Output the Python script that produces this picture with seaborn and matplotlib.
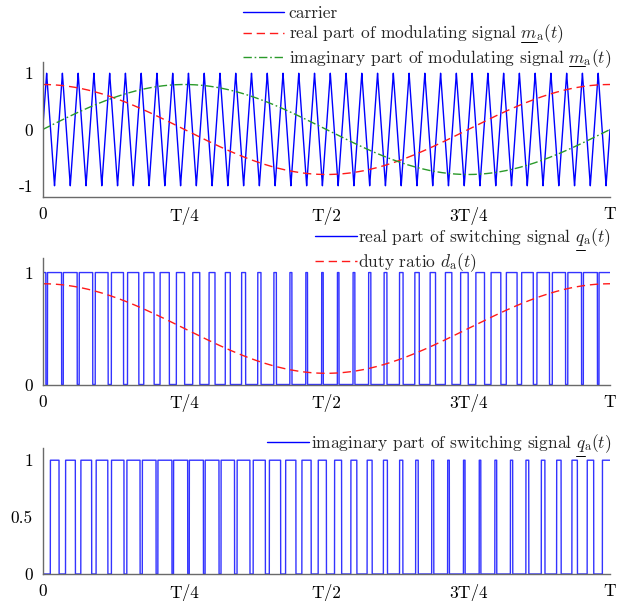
import numpy as np
import pandas as pd
import matplotlib
matplotlib.use("Agg")
import matplotlib.pyplot as plt
from matplotlib.lines import Line2D
from matplotlib.mathtext import MathTextParser
import seaborn as sns

# --- signal parameters -------------------------------------------------
carrier_periods = 36          # carrier cycles within one fundamental period T
modulation_index = 0.8        # amplitude of the modulating signal
samples_per_period = 400      # resolution of the time grid per carrier cycle

# --- axis ticks ----------------------------------------------------------
xtick_pos = [0, 0.25, 0.5, 0.75, 1.0]
xtick_labels = ["0", "T/4", "T/2", "3T/4", "T"]
ytick_pos_top = [-1, 0, 1]
ytick_labels_top = ["-1", "0", "1"]
ytick_pos_mid = [0, 0.5, 1]
ytick_labels_mid = ["0", "", "1"]
ytick_pos_bot = [0, 0.5, 1]
ytick_labels_bot = ["0", "0.5", "1"]

# --- legend texts: (prefix, underlined symbol, remainder of the formula) --
lbl_carrier = ("carrier", None, None)
lbl_mre = ("real part of modulating signal ", "m", r"_\mathrm{a}(t)")
lbl_mim = ("imaginary part of modulating signal ", "m", r"_\mathrm{a}(t)")
lbl_qre = ("real part of switching signal ", "q", r"_\mathrm{a}(t)")
lbl_duty = (r"duty ratio $d_\mathrm{a}(t)$", None, None)
lbl_qim = ("imaginary part of switching signal ", "q", r"_\mathrm{a}(t)")

# --- signals -------------------------------------------------------------
t = np.linspace(0.0, 1.0, carrier_periods * samples_per_period + 1)
carrier = (2 / np.pi) * np.arcsin(np.sin(2 * np.pi * carrier_periods * t))
m_re = modulation_index * np.cos(2 * np.pi * t)
m_im = modulation_index * np.sin(2 * np.pi * t)
q_re = (m_re >= carrier).astype(float)
q_im = (m_im > carrier).astype(float)
duty = 0.5 * (1 + m_re)

df = pd.DataFrame({"t": t, "carrier": carrier, "m_re": m_re, "m_im": m_im,
                   "q_re": q_re, "q_im": q_im, "duty": duty})

# --- style ---------------------------------------------------------------
sns.set_theme(style="white")
FS = 12.5
plt.rcParams.update({
    "font.family": "cmr10",
    "mathtext.fontset": "cm",
    "axes.formatter.use_mathtext": True,
    "font.size": FS,
    "axes.unicode_minus": False,
})
SPINE = "#6a6a6a"
BLUE = "#0000ff"
RED = "#ff1a1a"
GREEN = "#2a9a2a"
LW = 1.0


def has_underline():
    try:
        MathTextParser("path").parse(r"$\underline{m}$", dpi=100)
        return True
    except Exception:
        return False


NATIVE_UL = has_underline()


def make_label(spec):
    prefix, sym, rest = spec
    if sym is None:
        return prefix
    if NATIVE_UL:
        return prefix + r"$\underline{" + sym + "}" + rest + "$"
    return prefix + "$" + sym + rest + "$"


W, H = 621, 601
fig = plt.figure(figsize=(W / 100, H / 100), dpi=100)


def add_axes(top, bottom):
    return fig.add_axes([42.7 / W, 1 - bottom / H, (610 - 42.7) / W, (bottom - top) / H])


ax1 = add_axes(62, 197)
ax2 = add_axes(258, 384.5)
ax3 = add_axes(447.7, 574)

common = dict(estimator=None, sort=False, legend=False)
DASH = (0, (6, 3.5))
DASHDOT = (0, (6, 2, 1.2, 2))

# top panel: carrier and modulating signal
sns.lineplot(data=df, x="t", y="carrier", ax=ax1, color=BLUE, lw=LW, **common)
sns.lineplot(data=df, x="t", y="m_re", ax=ax1, color=RED, lw=LW, linestyle=DASH, **common)
sns.lineplot(data=df, x="t", y="m_im", ax=ax1, color=GREEN, lw=LW, linestyle=DASHDOT, **common)

# middle panel: real switching signal and duty ratio
sns.lineplot(data=df, x="t", y="q_re", ax=ax2, color=BLUE, lw=LW, alpha=0.8, **common)
sns.lineplot(data=df, x="t", y="duty", ax=ax2, color=RED, lw=LW, linestyle=DASH, **common)

# bottom panel: imaginary switching signal
sns.lineplot(data=df, x="t", y="q_im", ax=ax3, color=BLUE, lw=LW, alpha=0.8, **common)

for ax, ypos, ylab, ylim in [(ax1, ytick_pos_top, ytick_labels_top, (-1.2, 1.2)),
                             (ax2, ytick_pos_mid, ytick_labels_mid, (0, 1.13)),
                             (ax3, ytick_pos_bot, ytick_labels_bot, (0, 1.11))]:
    ax.set_xlim(0, 1)
    ax.set_ylim(*ylim)
    ax.set_xticks(xtick_pos)
    ax.set_xticklabels(xtick_labels)
    ax.set_yticks(ypos)
    ax.set_yticklabels(ylab)
    ax.set_xlabel("")
    ax.set_ylabel("")
    sns.despine(ax=ax)
    for side in ("left", "bottom"):
        ax.spines[side].set_color(SPINE)
        ax.spines[side].set_linewidth(1.0)
    ax.tick_params(axis="both", direction="in", length=4, width=0.8, color=SPINE,
                   labelsize=FS, labelcolor="black")
    ax.tick_params(axis="x", pad=7)
    ax.tick_params(axis="y", pad=7)

leg_kw = dict(frameon=False, fontsize=FS, borderpad=0, borderaxespad=0,
              loc="upper right", bbox_transform=fig.transFigure)

h_car = Line2D([], [], color=BLUE, lw=LW)
h_mre = Line2D([], [], color=RED, lw=LW, linestyle=DASH)
h_mim = Line2D([], [], color=GREEN, lw=LW, linestyle=DASHDOT)
h_qre = Line2D([], [], color=BLUE, lw=LW)
h_duty = Line2D([], [], color=RED, lw=LW, linestyle=DASH)
h_qim = Line2D([], [], color=BLUE, lw=LW)

leg1 = ax1.legend([h_car, h_mre, h_mim],
                  [make_label(lbl_carrier), make_label(lbl_mre), make_label(lbl_mim)],
                  bbox_to_anchor=(611 / W, 1 - 6 / H), handlelength=2.4,
                  handletextpad=0.25, labelspacing=0.08, **leg_kw)
leg2 = ax2.legend([h_qre, h_duty], [make_label(lbl_qre), make_label(lbl_duty)],
                  bbox_to_anchor=(611 / W, 1 - 226 / H), handlelength=2.4,
                  handletextpad=0.1, labelspacing=0.12, **leg_kw)
leg3 = ax3.legend([h_qim], [make_label(lbl_qim)],
                  bbox_to_anchor=(611 / W, 1 - 432 / H), handlelength=2.4,
                  handletextpad=0.1, **leg_kw)


def add_underlines(entries):
    """Draw a rule beneath the complex-valued symbol in legend entries."""
    fig.canvas.draw()
    renderer = fig.canvas.get_renderer()
    inv = fig.transFigure.inverted()
    for txt, (prefix, sym, rest) in entries:
        prop = txt.get_fontproperties()
        bb = txt.get_window_extent(renderer)
        full = txt.get_text()
        w_full, _, d_full = renderer.get_text_width_height_descent(full, prop, ismath=True)
        w_math, _, _ = renderer.get_text_width_height_descent("$" + sym + rest + "$", prop, ismath=True)
        w_sym, _, d_sym = renderer.get_text_width_height_descent("$" + sym + "$", prop, ismath=True)
        x0 = bb.x1 - w_math
        baseline = bb.y0 + d_full
        y = baseline - d_sym - 1.8
        p0 = inv.transform((x0 + 0.5, y))
        p1 = inv.transform((x0 + w_sym - 0.5, y))
        fig.add_artist(Line2D([p0[0], p1[0]], [p0[1], p1[1]], color="black", lw=0.7,
                              transform=fig.transFigure))


if not NATIVE_UL:
    entries = [(leg1.get_texts()[1], lbl_mre), (leg1.get_texts()[2], lbl_mim),
               (leg2.get_texts()[0], lbl_qre), (leg3.get_texts()[0], lbl_qim)]
    add_underlines(entries)

fig.savefig("out.png", dpi=100)
